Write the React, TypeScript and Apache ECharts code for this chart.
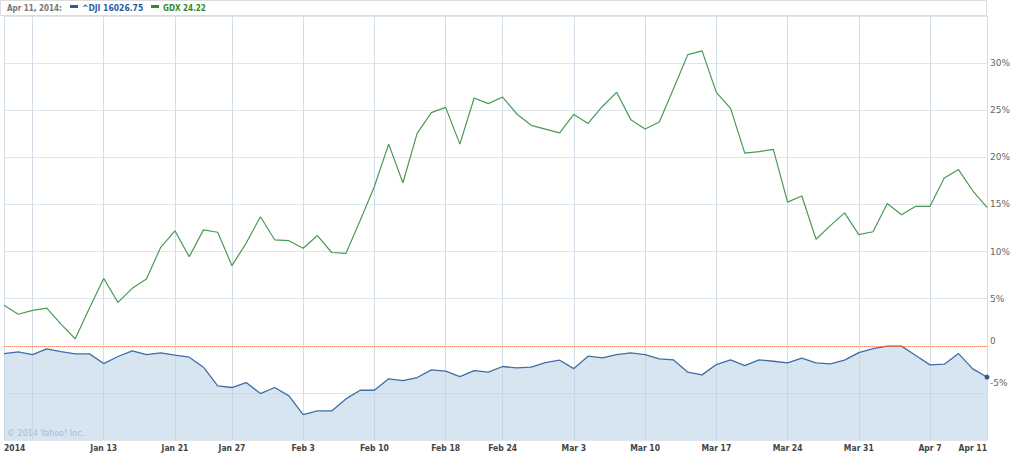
import React, { useEffect, useRef } from "react";
import * as echarts from "echarts";

const dates = [
  "Jan 2", "Jan 3", "Jan 6", "Jan 7", "Jan 8", "Jan 9", "Jan 10", "Jan 13", "Jan 14", "Jan 15",
  "Jan 16", "Jan 17", "Jan 21", "Jan 22", "Jan 23", "Jan 24", "Jan 27", "Jan 28", "Jan 29", "Jan 30",
  "Jan 31", "Feb 3", "Feb 4", "Feb 5", "Feb 6", "Feb 7", "Feb 10", "Feb 11", "Feb 12", "Feb 13",
  "Feb 14", "Feb 18", "Feb 19", "Feb 20", "Feb 21", "Feb 24", "Feb 25", "Feb 26", "Feb 27", "Feb 28",
  "Mar 3", "Mar 4", "Mar 5", "Mar 6", "Mar 7", "Mar 10", "Mar 11", "Mar 12", "Mar 13", "Mar 14",
  "Mar 17", "Mar 18", "Mar 19", "Mar 20", "Mar 21", "Mar 24", "Mar 25", "Mar 26", "Mar 27", "Mar 28",
  "Mar 31", "Apr 1", "Apr 2", "Apr 3", "Apr 4", "Apr 7", "Apr 8", "Apr 9", "Apr 10", "Apr 11",
];

const gdx = [
  4.3, 3.35, 3.75, 4.0, 2.3, 0.75, 4.0, 7.15, 4.6, 6.1,
  7.1, 10.45, 12.2, 9.45, 12.3, 12.05, 8.5, 10.9, 13.7, 11.25,
  11.15, 10.35, 11.7, 9.9, 9.8, 13.3, 16.9, 21.4, 17.3, 22.55,
  24.75, 25.3, 21.4, 26.3, 25.7, 26.4, 24.6, 23.4, 23.0, 22.6,
  24.55, 23.6, 25.4, 26.9, 24.0, 23.0, 23.75, 27.3, 30.9, 31.3,
  26.9, 25.2, 20.45, 20.6, 20.85, 15.25, 15.9, 11.3, 12.75, 14.1,
  11.8, 12.1, 15.1, 13.9, 14.8, 14.8, 17.8, 18.7, 16.45, 14.7,
];

const dji = [
  -0.83, -0.65, -0.93, -0.33, -0.61, -0.86, -0.86, -1.89, -1.14, -0.54,
  -0.93, -0.75, -1.0, -1.21, -2.27, -4.26, -4.43, -3.9, -5.07, -4.43,
  -5.32, -7.3, -6.91, -6.91, -5.64, -4.72, -4.72, -3.51, -3.69, -3.37,
  -2.56, -2.7, -3.27, -2.63, -2.8, -2.2, -2.35, -2.27, -1.78, -1.53,
  -2.42, -1.1, -1.28, -0.93, -0.75, -0.93, -1.39, -1.5, -2.8, -3.09,
  -1.99, -1.5, -2.1, -1.5, -1.64, -1.82, -1.32, -1.82, -1.92, -1.53,
  -0.72, -0.3, -0.04, -0.04, -1.04, -2.03, -1.95, -0.83, -2.45, -3.32,
];

const xTickDates = ["Jan 2", "Jan 13", "Jan 21", "Jan 27", "Feb 3", "Feb 10", "Feb 18", "Feb 24", "Mar 3", "Mar 10", "Mar 17", "Mar 24", "Mar 31", "Apr 7", "Apr 11"];
const xTickTexts = ["2014", "Jan 13", "Jan 21", "Jan 27", "Feb 3", "Feb 10", "Feb 18", "Feb 24", "Mar 3", "Mar 10", "Mar 17", "Mar 24", "Mar 31", "Apr 7", "Apr 11"];
const xGridDates = ["Jan 2", "Jan 6", "Jan 13", "Jan 21", "Jan 27", "Feb 3", "Feb 10", "Feb 18", "Feb 24", "Mar 3", "Mar 10", "Mar 17", "Mar 24", "Mar 31", "Apr 7"];

const headerDate = "Apr 11, 2014:";
const djiLegend = "^DJI 16026.75";
const gdxLegend = "GDX 24.22";
const copyright = "© 2014 Yahoo! Inc.";

const condFont = "'DejaVu Sans Condensed', 'Liberation Sans', sans-serif";
const plainFont = "'DejaVu Sans', Verdana, sans-serif";

export default function App() {
  const ref = useRef<HTMLDivElement>(null);
  useEffect(() => {
    document.body.style.margin = "0";
    const chart = echarts.init(ref.current!, null, { renderer: "svg" });
    const lastIdx = dji.length - 1;
    chart.setOption({
      animation: false,
      backgroundColor: "#ffffff",
      grid: { left: 4, right: 37, top: 16, bottom: 14 },
      xAxis: {
        type: "category",
        data: dates,
        boundaryGap: false,
        axisLine: { show: true, lineStyle: { color: "#cfdbe6" } },
        axisTick: { show: false },
        axisLabel: {
          interval: (_i: number, v: string) => xTickDates.includes(v),
          formatter: (v: string) => xTickTexts[xTickDates.indexOf(v)] ?? "",
          alignMinLabel: "left",
          alignMaxLabel: "right",
          margin: 3,
          fontSize: 8.5,
          fontWeight: "bold",
          color: "#444",
          fontFamily: condFont,
        },
        splitLine: {
          show: true,
          interval: (_i: number, v: string) => xGridDates.includes(v),
          lineStyle: { color: "#d3dde7", width: 1 },
        },
      },
      yAxis: {
        type: "value",
        position: "right",
        min: -10,
        max: 35,
        interval: 5,
        axisLine: { show: true, lineStyle: { color: "#d3dde7" } },
        axisTick: { show: false },
        splitLine: { show: true, lineStyle: { color: "#dfe5ec", width: 1 } },
        axisLabel: {
          margin: 3,
          fontSize: 9,
          color: "#666",
          fontFamily: plainFont,
          formatter: (v: number) => {
            if (v < -5 || v > 30) return "";
            if (v === 0) return "{z|0}";
            if (v === -5) return "{m|-5%}";
            return "{n|" + v + "%}";
          },
          rich: {
            n: { fontSize: 9, color: "#666", fontFamily: plainFont },
            z: { fontSize: 9, color: "#666", fontFamily: plainFont, padding: [0, 0, 10, 0] },
            m: { fontSize: 9, color: "#666", fontFamily: plainFont, padding: [0, 0, 20, 0] },
          },
        },
      },
      series: [
        {
          name: "zero",
          type: "line",
          data: [],
          z: 4,
          markLine: {
            silent: true,
            symbol: "none",
            label: { show: false },
            lineStyle: { color: "#f07a52", type: "dotted", width: 1, opacity: 0.9 },
            data: [{ yAxis: 0 }],
          },
        },
        {
          name: "^DJI",
          type: "line",
          data: dji,
          symbol: "circle",
          showSymbol: true,
          showAllSymbol: true,
          symbolSize: (_v: number, p: any) => (p.dataIndex === lastIdx ? 5 : 0),
          itemStyle: { color: "#2a5a94" },
          lineStyle: { color: "#3d6ea6", width: 1.3 },
          areaStyle: { origin: "start", color: "#bbd4e6", opacity: 0.6 },
          z: 2,
        },
        {
          name: "GDX",
          type: "line",
          data: gdx,
          symbol: "none",
          lineStyle: { color: "#4a9a55", width: 1.2 },
          z: 3,
        },
      ],
      graphic: [
        {
          type: "rect",
          shape: { x: 0.5, y: 0.5, width: 986, height: 15 },
          style: { fill: "#ffffff", stroke: "#dcdcdc", lineWidth: 1 },
          z: 100,
        },
        {
          type: "text",
          x: 7,
          y: 8,
          style: { text: headerDate, fill: "#777", font: "bold 8px " + condFont, verticalAlign: "middle" },
          z: 101,
        },
        {
          type: "rect",
          shape: { x: 70, y: 5, width: 8, height: 3 },
          style: { fill: "#2a5d9a" },
          z: 101,
        },
        {
          type: "text",
          x: 82,
          y: 8,
          style: { text: djiLegend, fill: "#2b5f9e", font: "bold 8.5px " + condFont, verticalAlign: "middle" },
          z: 101,
        },
        {
          type: "rect",
          shape: { x: 151, y: 5, width: 8, height: 3 },
          style: { fill: "#2e8b3a" },
          z: 101,
        },
        {
          type: "text",
          x: 163,
          y: 8,
          style: { text: gdxLegend, fill: "#2e8b2e", font: "bold 8px " + condFont, verticalAlign: "middle" },
          z: 101,
        },
        {
          type: "text",
          x: 7,
          y: 433,
          style: { text: copyright, fill: "#a8bdd2", font: "8px " + plainFont, verticalAlign: "middle" },
          z: 101,
        },
      ],
    });
    return () => chart.dispose();
  }, []);
  return <div ref={ref} style={{ width: 1024, height: 454 }} />;
}
